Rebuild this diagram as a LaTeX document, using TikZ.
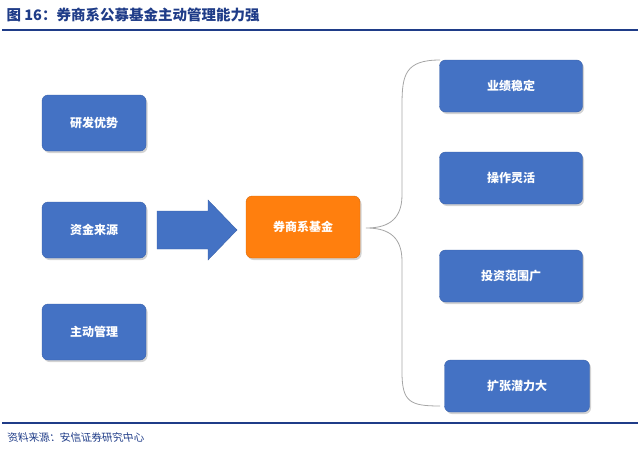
\documentclass[tikz,border=0pt]{standalone}
\usepackage{fontspec}
\newfontfamily\cjk{Noto Sans CJK SC}
\usetikzlibrary{shadows}
\definecolor{bx}{HTML}{4472C4}
\definecolor{bxd}{HTML}{3A62AA}
\definecolor{org}{HTML}{FF7F0E}
\definecolor{ttl}{HTML}{1F3C88}
\begin{document}
\begin{tikzpicture}[x=1pt,y=-1pt,
 box/.style={draw=bxd,fill=bx,rounded corners=6pt,text=white,font=\cjk\bfseries\fontsize{12}{14}\selectfont,drop shadow={shadow xshift=1.5pt,shadow yshift=-2pt,opacity=0.35}}]
\useasboundingbox (0,0) rectangle (640,455);
\node[anchor=west,text=ttl,font=\cjk\bfseries\fontsize{14.5}{16}\selectfont] (t) at (3,15) {图 16：券商系公募基金主动管理能力强};
\draw[ttl,line width=1.2pt] (2,30) coordinate (l1) -- (638,30) coordinate (l2);
\node[box,minimum width=104pt,minimum height=56pt] (a) at (94,123) {研发优势};
\node[box,minimum width=104pt,minimum height=56pt] (b) at (94,230) {资金来源};
\node[box,minimum width=104pt,minimum height=56pt] (c) at (94,332) {主动管理};
\node[box,fill=org,draw=org!85!black,minimum width=114pt,minimum height=62pt] (o) at (303,227) {券商系基金};
\node[box,minimum width=143pt,minimum height=52pt] (r1) at (511,86) {业绩稳定};
\node[box,minimum width=143pt,minimum height=52pt] (r2) at (511,178) {操作灵活};
\node[box,minimum width=143pt,minimum height=52pt] (r3) at (511,276) {投资范围广};
\node[box,minimum width=145pt,minimum height=52pt] (r4) at (517,386) {扩张潜力大};
\fill[bx,draw=bxd] (157,211) -- (208,211) -- (208,200) -- (237,230) -- (208,260) -- (208,249) -- (157,249) -- cycle;
\draw[gray!70,line width=0.8pt] (440,60) .. controls (405,60) and (402,75) .. (402,105) -- (402,195)
 .. controls (402,222) and (385,228) .. (366,228) .. controls (385,228) and (402,234) .. (402,261)
 -- (402,372) .. controls (402,402) and (410,406) .. (440,406);
\draw[ttl,line width=1.2pt] (2,423) -- (638,423);
\node[anchor=west,text=ttl,font=\cjk\fontsize{10.5}{12}\selectfont,xslant=-0.2] (f) at (4,437) {资料来源：安信证券研究中心};
\end{tikzpicture}
\end{document}
